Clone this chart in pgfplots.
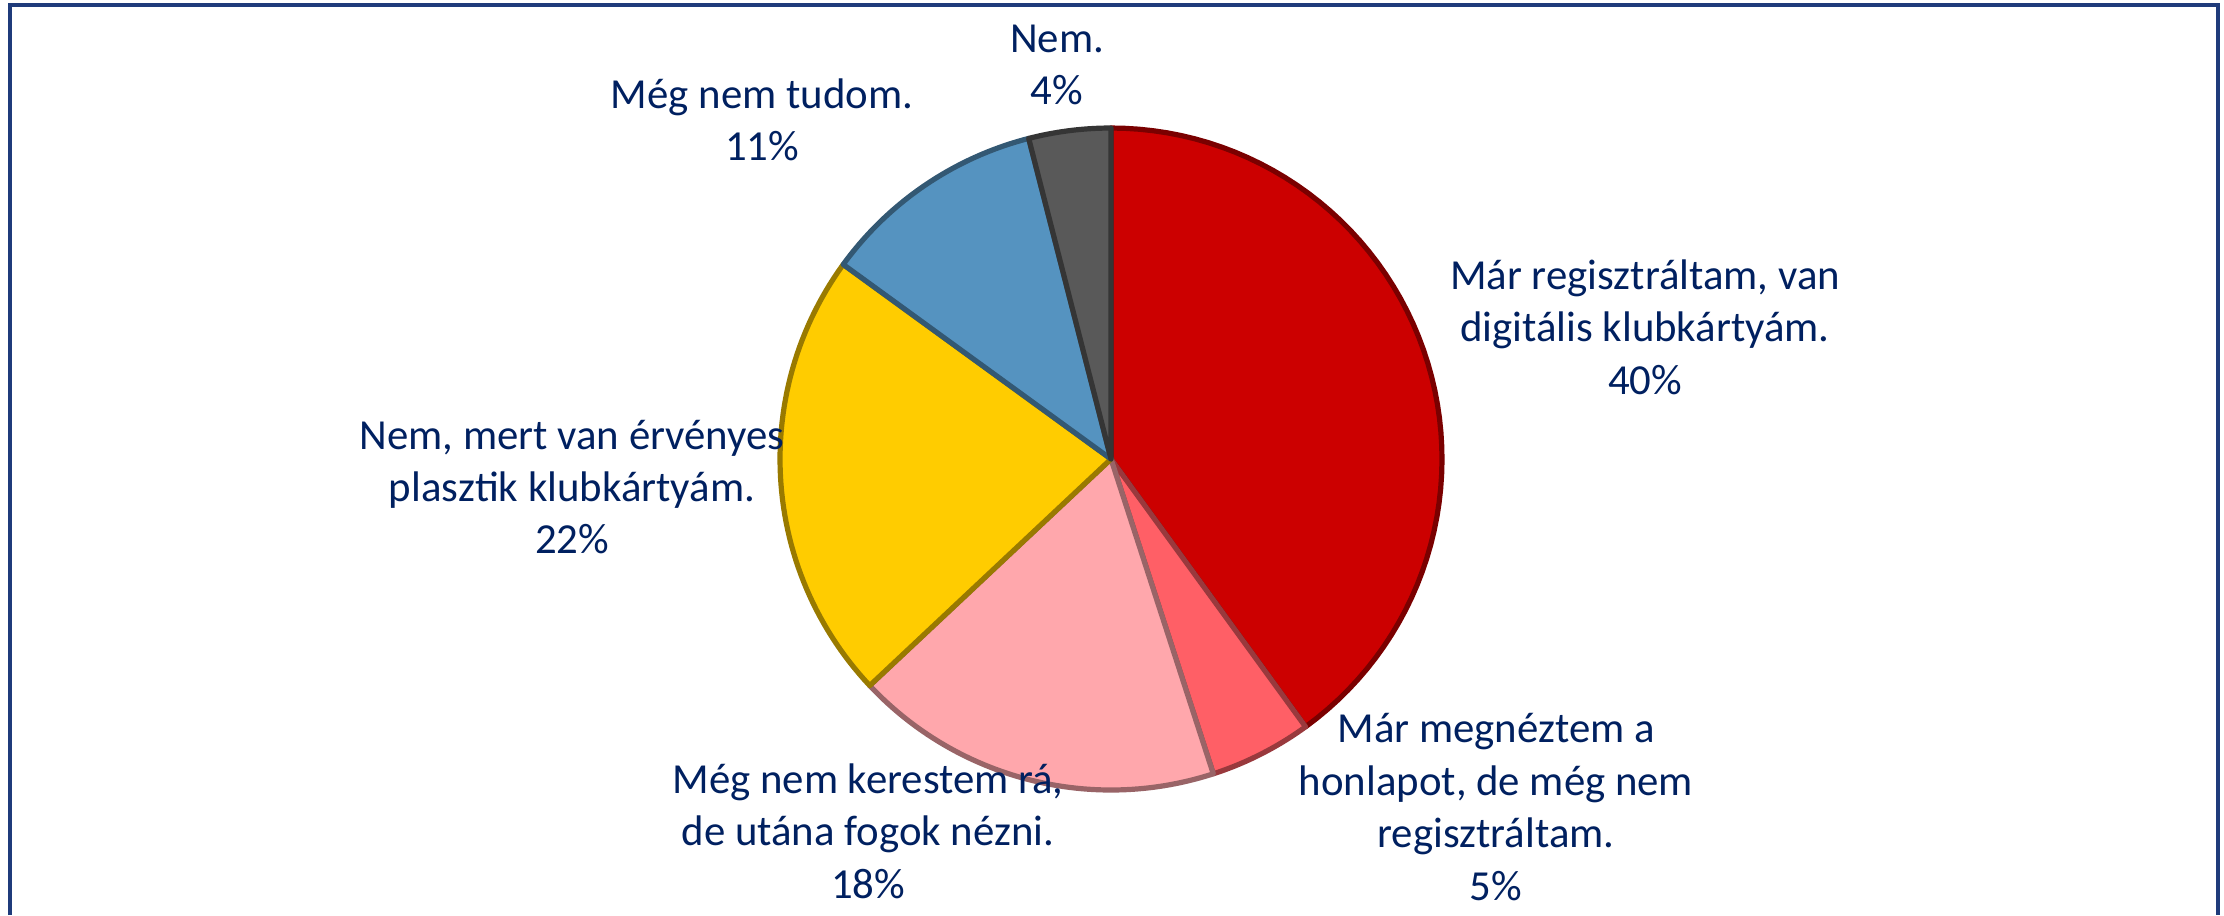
\documentclass[border=0pt]{standalone}
\usepackage{fontspec}
\setmainfont{Carlito}
\usepackage{pgfplots}
\pgfplotsset{compat=1.18}

\definecolor{txt}{HTML}{002060}
\definecolor{frame}{HTML}{1F3B7B}
\definecolor{cRed}{HTML}{CC0000}
\definecolor{cSalmon}{HTML}{FF5F66}
\definecolor{cPink}{HTML}{FFA7AC}
\definecolor{cYellow}{HTML}{FFCC00}
\definecolor{cBlue}{HTML}{5593C0}
\definecolor{cGray}{HTML}{595959}

% pie centre and radius, in the axis's pixel units
\def\cx{1111}
\def\cy{456}
\def\rr{331}

% one slice: start and end share (percent), colour
\newcommand{\slice}[3]{%
  \addplot[fill=#3, draw=#3!60!black, line width=1.3pt, line join=round,
    domain=#1:#2, samples=60, variable=\t]
    ({\cx+\rr*cos(90-3.6*\t)}, {\cy+\rr*sin(90-3.6*\t)})
    -- (axis cs:\cx,\cy) -- cycle;
}

\begin{document}
\begin{tikzpicture}[
    lbl/.style={text=txt, align=center,
      font=\fontsize{10.7}{13.1}\selectfont}
]
\begin{axis}[
    scale only axis,
    width=556pt, height=228.75pt,
    xmin=0, xmax=2224, ymin=0, ymax=915,
    hide axis, clip=false
]
    \coordinate (bl) at (rel axis cs:0,0);
    \coordinate (tr) at (rel axis cs:1,1);
    % frame (bottom edge is cut off in the original)
    \draw[frame, line width=0.8pt]
      (axis cs:10,0) -- (axis cs:10,910) -- (axis cs:2218,910) -- (axis cs:2218,0);

    % shares: 40, 5, 18, 22, 11, 4
    \slice{0}{40}{cRed}
    \slice{40}{45}{cSalmon}
    \slice{45}{63}{cPink}
    \slice{63}{85}{cYellow}
    \slice{85}{96}{cBlue}
    \slice{96}{100}{cGray}

    \node[lbl] at (axis cs:1057,850) {Nem.\\4\%};
    \node[lbl] at (axis cs:762,795) {Még nem tudom.\\11\%};
    \node[lbl] at (axis cs:1645,588) {Már regisztráltam, van\\digitális klubkártyám.\\40\%};
    \node[lbl] at (axis cs:572,428) {Nem, mert van érvényes\\plasztik klubkártyám.\\22\%};
    \node[lbl] at (axis cs:1496,108) {Már megnéztem a\\honlapot, de még nem\\regisztráltam.\\5\%};
    \node[lbl] at (axis cs:868,84) {Még nem kerestem rá,\\de utána fogok nézni.\\18\%};
\end{axis}
\pgfresetboundingbox
\path (bl) rectangle (tr);
\end{tikzpicture}
\end{document}
